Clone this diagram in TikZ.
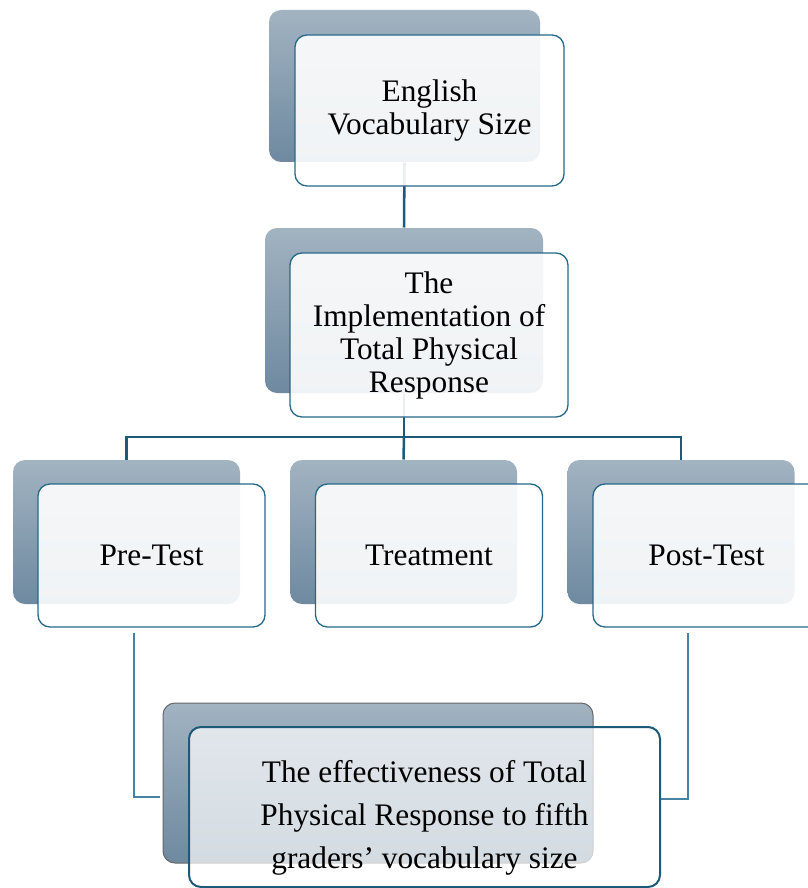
\documentclass[tikz,border=0pt]{standalone}
\usepackage{fontspec}
\setmainfont{Liberation Serif}
\usetikzlibrary{positioning,calc,backgrounds}
\tikzset{every picture/.style={line width=0.75pt}}
\definecolor{backtop}{RGB}{162,179,193}
\definecolor{backbot}{RGB}{110,137,160}
\definecolor{frontedge}{RGB}{38,104,136}
\definecolor{linkdark}{RGB}{28,90,120}
\definecolor{linklight}{RGB}{70,130,162}

\begin{document}
\begin{tikzpicture}[x=0.75pt,y=0.75pt,yscale=-1,xscale=1,
  backbox/.style={rounded corners=9pt, top color=backtop, bottom color=backbot, draw=none, inner sep=0pt},
  frontbox/.style={draw=frontedge, line width=1pt, rounded corners=9pt, fill=white, fill opacity=0.9, text opacity=1, inner sep=0pt, align=center, font=\fontsize{23.5}{24.75}\selectfont},
  link/.style={draw=linkdark, line width=1.9pt},
  thinlink/.style={draw=linklight, line width=1pt}]
\useasboundingbox (0,0) rectangle (807,888);

%Shape: Rounded Rect [English Vocabulary Size]
\node [backbox, minimum width=203.25pt, minimum height=114pt] (vocabback) at (404.5,86) {};
\node [frontbox, minimum width=201.75pt, minimum height=113.25pt] (vocabfront) at (429.5,110.5) {English\\Vocabulary Size};

%Shape: Rounded Rect [Implementation of TPR]
\node [backbox, minimum width=208.5pt, minimum height=123.75pt] (tprback) at (404,310.5) {};
\node [frontbox, minimum width=208.5pt, minimum height=123pt] (tprfront) at (429,335) {The\\Implementation of\\Total Physical\\Response};

%Shape: Rounded Rect [Pre-Test]
\node [backbox, minimum width=170.25pt, minimum height=108pt] (preback) at (126.5,532) {};
\node [frontbox, minimum width=170.25pt, minimum height=107.25pt] (prefront) at (151.5,555.5) {Pre-Test};
%Shape: Rounded Rect [Treatment]
\node [backbox, minimum width=170.25pt, minimum height=108pt] (treatback) at (403.5,532) {};
\node [frontbox, minimum width=170.25pt, minimum height=107.25pt] (treatfront) at (429,555.5) {Treatment};
%Shape: Rounded Rect [Post-Test]
\node [backbox, minimum width=170.25pt, minimum height=108pt] (postback) at (681,532) {};
\node [frontbox, minimum width=170.25pt, minimum height=107.25pt] (postfront) at (706.5,555.5) {Post-Test};

%Shape: Rounded Rect [effectiveness]
\node [backbox, draw=black!60, line width=0.75pt, minimum width=322.5pt, minimum height=120pt] (effback) at (378,783) {};
\node [frontbox, draw=linkdark, line width=1.5pt, fill opacity=0.7, minimum width=353.25pt, minimum height=120pt] (efffront) at (424.5,807) {};
% Text Node
\node [align=center, inner sep=0pt, font=\fontsize{23.5}{32.25}\selectfont] (efftext) at ($(efffront.center)+(0,11)$) {The effectiveness of Total\\Physical Response to fifth\\graders’ vocabulary size};

%Straight Lines [tree]
\begin{scope}[on background layer]
\draw [link] (vocabback.south) -- (tprback.north);
\coordinate (bus) at (404,437);
\draw [link] (tprback.south) -- (bus);
\draw [link] (preback.north) |- (bus) -| (postback.north);
\draw [link] (bus) -- (treatback.north);
\end{scope}

%Straight Lines [to effectiveness]
\draw [thinlink] ($(prefront.south)+(-17.5,5)$) |- ($(effback.west)+(-3,14)$);
\draw [thinlink] ($(postfront.south)+(-18.5,5)$) |- ($(efffront.east)+(0,-8)$);

\end{tikzpicture}
\end{document}
